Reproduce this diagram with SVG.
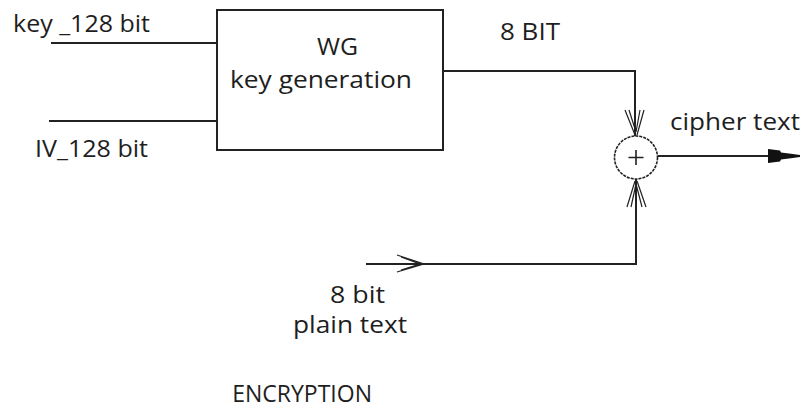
<svg xmlns="http://www.w3.org/2000/svg" width="806" height="410" viewBox="0 0 806 410">
  <style>
    text { font-family: "Open Sans", "Liberation Sans", sans-serif; font-size: 23px; fill: #1e1e1e; }
    .ln { fill: none; stroke: #222; stroke-width: 2; }
    .thin { fill: none; stroke: #222; stroke-width: 1.2; }
  </style>
  <rect width="806" height="410" fill="#fff"/>

  <g id="keygen">
    <rect x="217" y="10" width="226" height="140" class="ln"/>
    <text x="317" y="55" textLength="41" lengthAdjust="spacingAndGlyphs">WG</text>
    <text x="230" y="88" textLength="182" lengthAdjust="spacingAndGlyphs">key generation</text>
  </g>

  <g id="xor">
    <circle cx="636" cy="157.5" r="21.5" fill="none" stroke="#222" stroke-width="1.6" stroke-dasharray="3 1"/>
    <path d="M636,150 V165 M628.5,157.5 H643.5" fill="none" stroke="#222" stroke-width="1.6"/>
  </g>

  <g id="labels">
    <text x="13" y="32" textLength="137" lengthAdjust="spacingAndGlyphs">key _128 bit</text>
    <text x="35" y="157" textLength="113" lengthAdjust="spacingAndGlyphs">IV_128 bit</text>
    <text x="500" y="40" textLength="60" lengthAdjust="spacingAndGlyphs">8 BIT</text>
    <text x="670" y="130" textLength="130" lengthAdjust="spacingAndGlyphs">cipher text</text>
    <text x="330" y="303" textLength="55" lengthAdjust="spacingAndGlyphs">8 bit</text>
    <text x="293" y="333" textLength="114" lengthAdjust="spacingAndGlyphs">plain text</text>
    <text x="372" y="402" text-anchor="end">ENCRYPTION</text>
  </g>

  <g id="connectors">
    <!-- inputs to key generator -->
    <path d="M51,43 H217" class="ln"/>
    <path d="M49,121 H217" class="ln"/>
    <!-- keystream to XOR -->
    <path d="M443,71 H635 V136" class="ln"/>
    <path d="M625,110 L635,135 M629,110 L636,132 M644,110 L637,135 M640,110 L636,132" class="thin"/>
    <!-- plaintext to XOR -->
    <path d="M366,264 H636 V179" class="ln"/>
    <path d="M397,255 L424,264 L397,272 M401,257 L420,264 L401,270" class="thin"/>
    <path d="M627,207 L635,181 M631,207 L636,184 M646,207 L637,181 M642,207 L636,184" class="thin"/>
    <!-- ciphertext out -->
    <path d="M658,156 H770" class="ln"/>
    <path d="M768,149 L780,150.5 L781,152.5 L789,153.5 L800,155 L800,157 L789,158.5 L781,159.5 L780,161.5 L768,163 Z" fill="#111"/>
  </g>
</svg>
